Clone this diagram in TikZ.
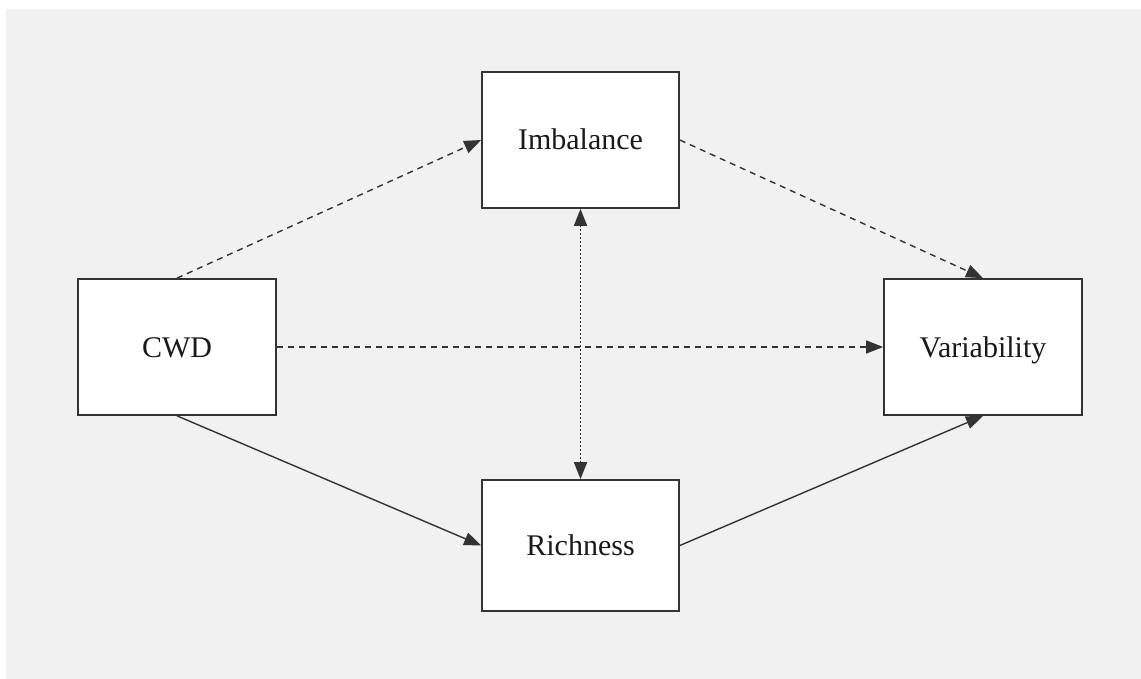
\documentclass[tikz,border=0pt]{standalone}
\usepackage{fontspec}
\setmainfont{Liberation Serif}
\usetikzlibrary{arrows.meta}
\definecolor{bggray}{HTML}{F1F1F1}
\definecolor{ink}{HTML}{333333}
\tikzset{
  box/.style={draw=ink, line width=1.7pt, fill=white, inner sep=0pt, text height=20pt, text depth=0pt, font=\fontsize{30}{34}\selectfont, text=black!90},
  conn/.style={draw=ink, line width=1.4pt, -{Triangle[length=17pt,width=13pt]}},
  dashconn/.style={conn, dash pattern=on 6pt off 5pt},
  dotconn/.style={draw=ink, line width=1.7pt, dash pattern=on 1.5pt off 2.5pt, {Triangle[length=17pt,width=13pt]}-{Triangle[length=17pt,width=13pt]}}
}
\begin{document}
\begin{tikzpicture}[x=1pt,y=-1pt]
\useasboundingbox (0,0) rectangle (1141,679);
\fill[white] (0,0) rectangle (1141,679);
\fill[bggray] (6,9) rectangle (1141,679);
\node[box, minimum width=197pt, minimum height=136pt] (imb) at (580.5,140) {Imbalance};
\node[box, minimum width=198pt, minimum height=136pt] (cwd) at (177,347) {CWD};
\node[box, minimum width=198pt, minimum height=136pt] (var) at (983,347) {Variability};
\node[box, minimum width=197pt, minimum height=131pt] (ric) at (580.5,545.5) {Richness};
\draw[dashconn] (cwd.north) -- (imb.west);
\draw[dashconn] (imb.east) -- (var.north);
\draw[dashconn] (cwd.east) -- (var.west);
\draw[conn] (cwd.south) -- (ric.west);
\draw[conn] (ric.east) -- (var.south);
\draw[dotconn] (imb.south) -- (ric.north);
\end{tikzpicture}
\end{document}
